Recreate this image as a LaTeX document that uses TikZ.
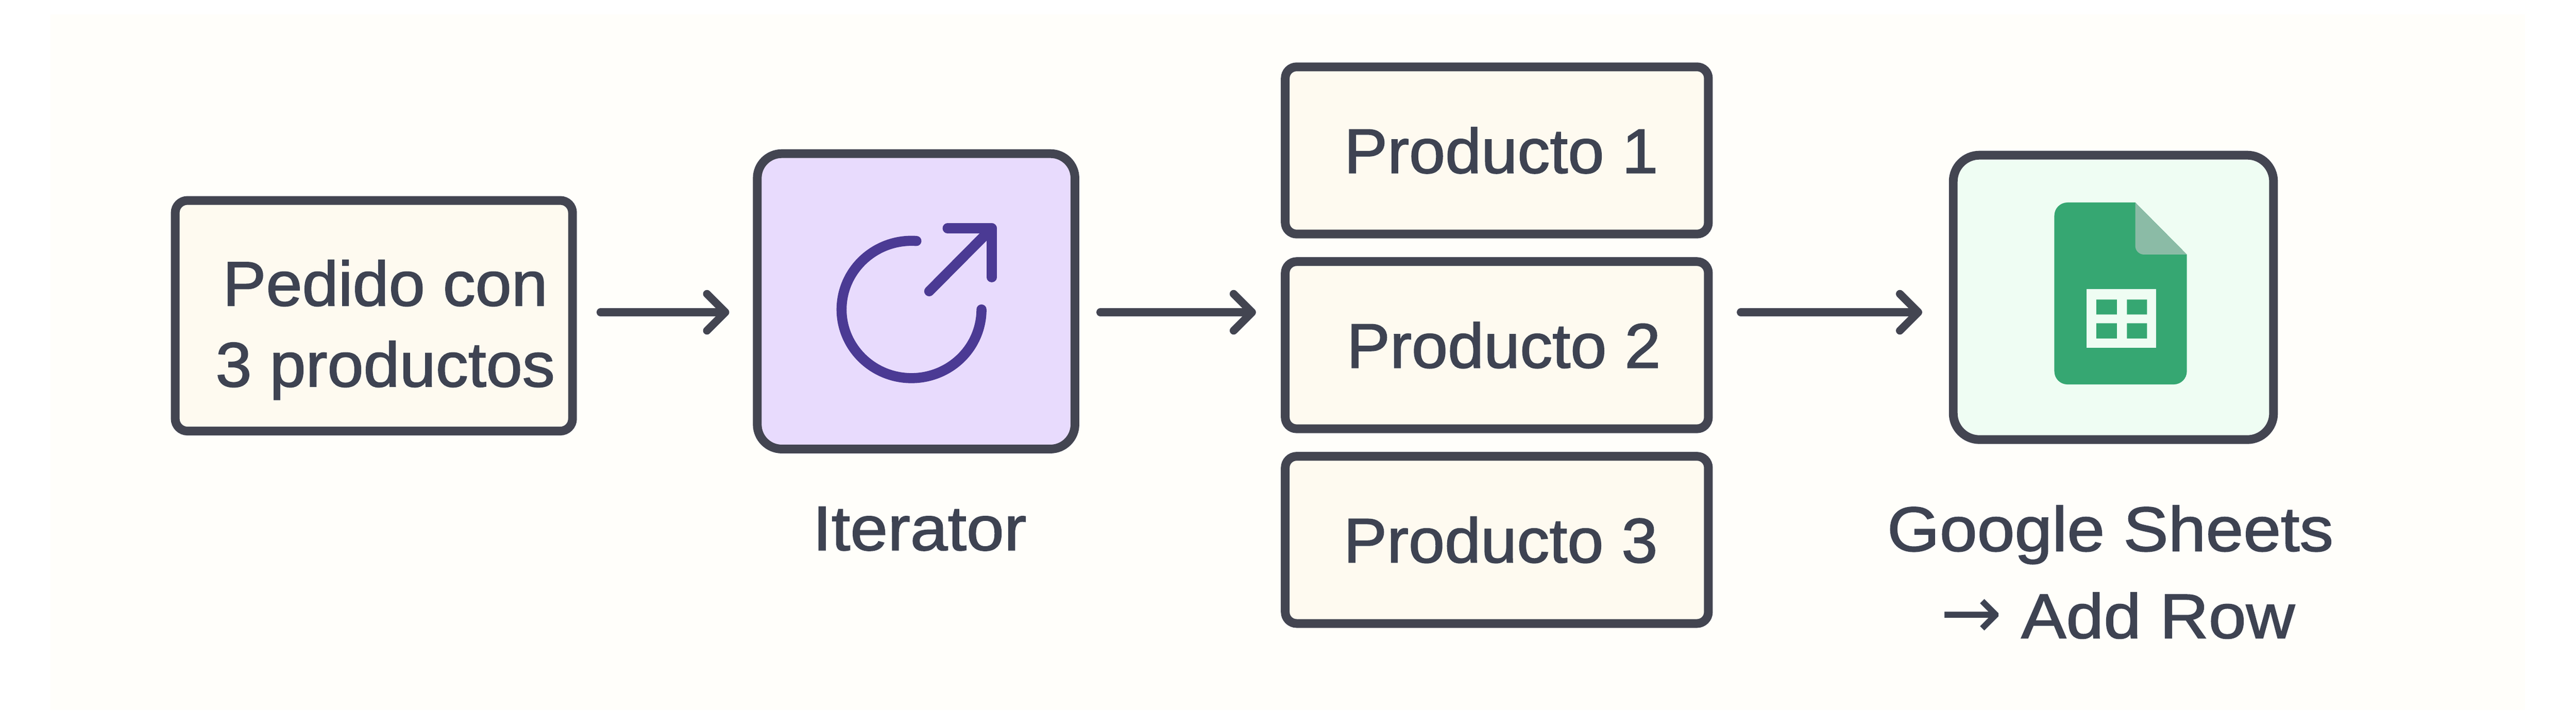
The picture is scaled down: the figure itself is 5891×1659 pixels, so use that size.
\documentclass[tikz,border=0pt]{standalone}
\usepackage{fontspec}
\setmainfont[FakeBold=1.5,FakeStretch=1.03]{Liberation Sans}
\newfontfamily\etiquetafont[FakeBold=1.5,FakeStretch=1.07]{Liberation Sans}
\newfontfamily\flechafont{DejaVu Sans}
\usetikzlibrary{arrows.meta,positioning}

\definecolor{trazo}{HTML}{434551}
\definecolor{letra}{HTML}{3E4352}
\definecolor{fondo}{HTML}{FFFEFA}
\definecolor{crema}{HTML}{FEFAF0}
\definecolor{lila}{HTML}{E8DBFD}
\definecolor{menta}{HTML}{EFFDF3}
\definecolor{violeta}{HTML}{4B3A94}
\definecolor{hoja}{HTML}{36A772}
\definecolor{pliegue}{HTML}{8BBBA6}

\begin{document}
\begin{tikzpicture}[
        x=0.01cm, y=-0.01cm,
        >={Straight Barb[length=0.42cm, width=0.84cm, round]},
        every node/.style={font=\fontsize{41}{52.6}\selectfont, text=letra, align=center, outer sep=0pt, inner sep=0pt},
        caja/.style={draw=trazo, line width=0.2cm},
        producto/.style={caja, fill=crema, rounded corners=0.26cm, minimum width=9.67cm, minimum height=3.82cm},
        etiqueta/.style={anchor=base, font=\fontsize{41}{52.6}\etiquetafont},
        flecha/.style={->, draw=trazo, line width=0.18cm, line cap=round},
        icono/.style={draw=violeta, line width=0.23cm, line cap=round, line join=round},
        node distance=0.63cm
        ]
        % Page and background panel
        \useasboundingbox (0,0) rectangle (5891,1659);
        \fill[white] (0,0) rectangle (5891,1659);
        \fill[fondo] (115,33) rectangle (5774,1624);

        % Boxes
        \node[caja, fill=crema, rounded corners=0.28cm, minimum width=9.08cm, minimum height=5.27cm] (pedido) at (855,722)
             {\hspace*{14.8pt}\rule{0pt}{48pt}Pedido con\\\hspace*{14.8pt}3 productos};
        \node[caja, fill=lila, rounded corners=0.56cm, minimum width=7.26cm, minimum height=6.75cm] (iterator) at (2095,689) {};
        \node[producto] (prod1) at (3423,344) {\hspace*{5.7pt}Producto 1};
        \node[producto] (prod2) [below=of prod1] {\hspace*{9pt}Producto 2};
        \node[producto] (prod3) [below=of prod2] {\hspace*{5pt}Producto 3};
        \node[caja, fill=menta, rounded corners=0.6cm, minimum width=7.32cm, minimum height=6.5cm] (sheets) at (4833,680) {};

        % Labels
        \node[etiqueta] (iterlabel) at (2103,1258) {Iterator};
        \node[etiqueta] (sheetslabel) at (4826,1260) {Google Sheets};
        \node[etiqueta] (addrow) at (4843,1459) {{\fontsize{48}{52.6}\flechafont →} Add Row};

        % Arrows
        \coordinate (flujo) at (0,714);
        \draw[flecha, shorten <=0.64cm, shorten >=0.64cm] (pedido.east |- flujo) -- (iterator.west |- flujo);
        \draw[flecha, shorten <=0.58cm, shorten >=0.67cm] (iterator.east |- flujo) -- (prod2.west |- flujo);
        \draw[flecha, shorten <=0.74cm, shorten >=0.71cm] (prod2.east |- flujo) -- (sheets.west |- flujo);

        % Iterator icon
        \draw[icono] (2095.7,551) arc[start angle=274, end angle=0, x radius=160, y radius=157];
        \draw[icono] (2125,666) -- (2268,522);
        \draw[icono] (2167,522) -- (2268,522) -- (2268,634);

        % Sheets icon
        \fill[hoja, rounded corners=0.3cm] (4698,670) -- (4698,463) [sharp corners] -- (4883,463) -- (5001,582) [rounded corners=0.3cm] -- (5001,879) -- (4698,879) -- cycle;
        \fill[pliegue] (4883,463) -- (5001,582) [rounded corners=0.2cm] -- (4883,582) [sharp corners] -- cycle;
        \fill[menta] (4772,661) rectangle (4931,795);
        \fill[hoja] (4794,685) rectangle (4841,719) (4864,685) rectangle (4910,719)
                    (4794,739) rectangle (4841,774) (4864,739) rectangle (4910,774);
\end{tikzpicture}
\end{document}
